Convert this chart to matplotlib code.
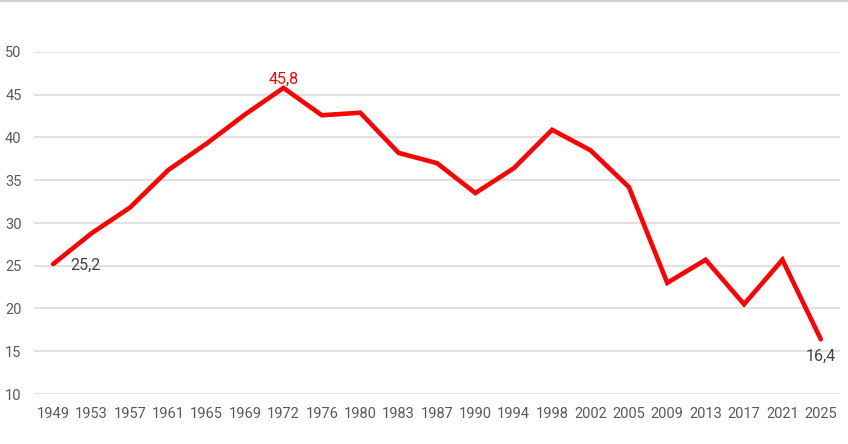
import matplotlib
matplotlib.use('Agg')
import matplotlib.pyplot as plt
from matplotlib.lines import Line2D

years = ["1949", "1953", "1957", "1961", "1965", "1969", "1972", "1976", "1980", "1983",
         "1987", "1990", "1994", "1998", "2002", "2005", "2009", "2013", "2017", "2021", "2025"]
values = [25.2, 28.8, 31.8, 36.2, 39.3, 42.7, 45.8, 42.6, 42.9, 38.2,
          37.0, 33.5, 36.4, 40.9, 38.5, 34.2, 23.0, 25.7, 20.5, 25.7, 16.4]
y_ticks = [10, 15, 20, 25, 30, 35, 40, 45, 50]

plt.rcParams['font.family'] = ['Roboto', 'DejaVu Sans']

fig = plt.figure(figsize=(8.48, 4.44), dpi=100)
ax = fig.add_axes([34 / 848, 1 - 394 / 444, 806 / 848, 342 / 444])

x = list(range(len(years)))
ax.plot(x, values, color="#ff0000", linewidth=3.3, solid_capstyle="round",
        solid_joinstyle="miter", zorder=3)

ax.set_xlim(-0.5, len(years) - 0.5)
ax.set_ylim(10, 50)
ax.set_yticks(y_ticks)
ax.set_yticklabels([str(t) for t in y_ticks])
ax.set_xticks(x)
ax.set_xticklabels(years)
ax.tick_params(axis="both", length=0, labelsize=10.5, labelcolor="#595959")
ax.tick_params(axis="y", pad=9)
ax.tick_params(axis="x", pad=9)

ax.grid(axis="y", color="#d9d9d9", linewidth=1.1)
ax.set_axisbelow(True)
for s in ax.spines.values():
    s.set_visible(False)

# data labels
fmt = lambda v: f"{v:.1f}".replace(".", ",")
ax.annotate(fmt(values[0]), (0, values[0]), xytext=(12, -1), textcoords="offset points",
            ha="left", va="center", fontsize=11.5, color="#404040")
i_max = values.index(max(values))
ax.annotate(fmt(values[i_max]), (i_max, values[i_max]), xytext=(0, 1), textcoords="offset points",
            ha="center", va="bottom", fontsize=11.5, color="#ff0000")
ax.annotate(fmt(values[-1]), (len(values) - 1, values[-1]), xytext=(0, -7), textcoords="offset points",
            ha="center", va="top", fontsize=11.5, color="#404040")

# chart border line at the very top
fig.add_artist(Line2D([0, 1], [1 - 1.5 / 444, 1 - 1.5 / 444], transform=fig.transFigure,
                      color="#d0d0d0", linewidth=1.5))

fig.savefig("out.png", dpi=100)
